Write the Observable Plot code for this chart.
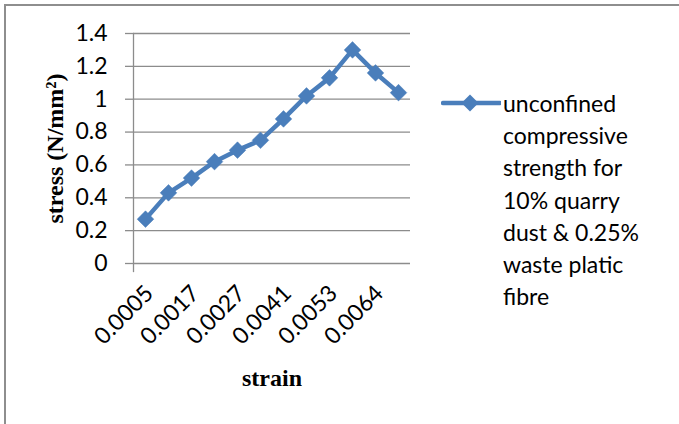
<!DOCTYPE html>
<html>
<head>
<meta charset="utf-8">
<script src="https://cdn.jsdelivr.net/npm/d3@7"></script>
<script src="https://cdn.jsdelivr.net/npm/@observablehq/plot@0.6"></script>
<style>
  html, body { margin: 0; padding: 0; background: #fff; }
  #chart { position: relative; width: 679px; height: 424px; overflow: hidden; }
  #chart > svg { position: absolute; left: 0; top: 0; }
  #border { position: absolute; left: 4px; top: 4px; width: 680px; height: 430px;
            border-top: 2px solid #8e8e8e; border-left: 2px solid #8e8e8e; box-sizing: border-box; }
  #legend { position: absolute; left: 441px; top: 87px; font-family: Lato, "Open Sans", sans-serif;
            font-size: 23px; line-height: 32.2px; color: #000; display: flex; align-items: flex-start; }
  #legend .swatch { display: block; width: 60px; height: 32px; flex: none; }
  #legend .label { padding-left: 2px; }
</style>
</head>
<body>
<div id="chart"><div id="border"></div></div>
<script>
// Strain categories (x) and measured compressive stress (y, N/mm²)
const strain = ["0.0005", "0.0011", "0.0017", "0.0022", "0.0027", "0.0034",
                "0.0041", "0.0047", "0.0053", "0.0059", "0.0064", "0.0070"];
const stress = [0.27, 0.43, 0.52, 0.62, 0.69, 0.75, 0.88, 1.02, 1.13, 1.30, 1.16, 1.04];

// Axis tick labels
const xTickLabels = ["0.0005", "0.0017", "0.0027", "0.0041", "0.0053", "0.0064"];
const yTicks = [0, 0.2, 0.4, 0.6, 0.8, 1, 1.2, 1.4];

const seriesName = "unconfined compressive strength for 10% quarry dust & 0.25% waste platic fibre";
const seriesLines = ["unconfined", "compressive", "strength for", "10% quarry", "dust & 0.25%", "waste platic", "fibre"];
const xTitle = "strain";
const yTitle = "stress (N/mm²)";

const blue = "#4a7ebb";
const grid = "#8c8c8c";
const serif = "'Liberation Serif', 'Times New Roman', serif";

const rows = strain.map((s, i) => ({strain: s, stress: stress[i]}));

const chart = Plot.plot({
  width: 679,
  height: 424,
  marginLeft: 133,
  marginRight: 269,
  marginTop: 33,
  marginBottom: 161,
  style: {fontFamily: "Lato, 'Open Sans', sans-serif", fontSize: "23px", color: "#000", background: "transparent"},
  x: {type: "point", domain: strain, padding: 0.5},
  y: {domain: [0, 1.4]},
  marks: [
    Plot.gridY({ticks: yTicks, stroke: grid, strokeOpacity: 1, strokeWidth: 1.3}),
    Plot.frame({anchor: "left", stroke: grid, strokeWidth: 1.3, insetBottom: -8}),
    Plot.axisY({ticks: yTicks, tickSize: 8, tickPadding: 18, stroke: grid, strokeWidth: 1.3,
                tickFormat: d3.format("~g"), label: null, fill: "#000"}),
    Plot.axisX({ticks: xTickLabels, tickSize: 0, tickRotate: -45, tickPadding: 26, dx: 4, fontSize: 23, label: null, fill: "#000"}),
    Plot.line(rows, {x: "strain", y: "stress", stroke: blue, strokeWidth: 4.5}),
    Plot.dot(rows, {x: "strain", y: "stress", symbol: "diamond2", r: 7.5, fill: blue, stroke: blue, strokeWidth: 0.5}),
    Plot.text([xTitle], {text: d => d, frameAnchor: "bottom", dy: 122, fontFamily: serif,
                         fontWeight: "bold", fontSize: 24, fill: "#000"}),
    Plot.text([yTitle], {text: d => d, frameAnchor: "left", textAnchor: "middle", rotate: -90, dx: -78, fontFamily: serif,
                         fontWeight: "bold", fontSize: 24, fill: "#000"})
  ]
});
const host = document.getElementById("chart");
host.insertBefore(chart, host.firstChild);

// Legend: line-with-diamond swatch beside the wrapped series name
const legend = document.createElement("div");
legend.id = "legend";
legend.title = seriesName;
legend.innerHTML = `<svg class="swatch" viewBox="0 0 60 32">
    <line x1="2" x2="59" y1="16" y2="16" stroke="${blue}" stroke-width="4.5" stroke-linecap="round"/>
    <path d="M29,7.5L37.5,16L29,24.5L20.5,16Z" fill="${blue}"/>
  </svg><div class="label">${seriesLines.join("<br>")}</div>`;
host.appendChild(legend);
</script>
</body>
</html>
